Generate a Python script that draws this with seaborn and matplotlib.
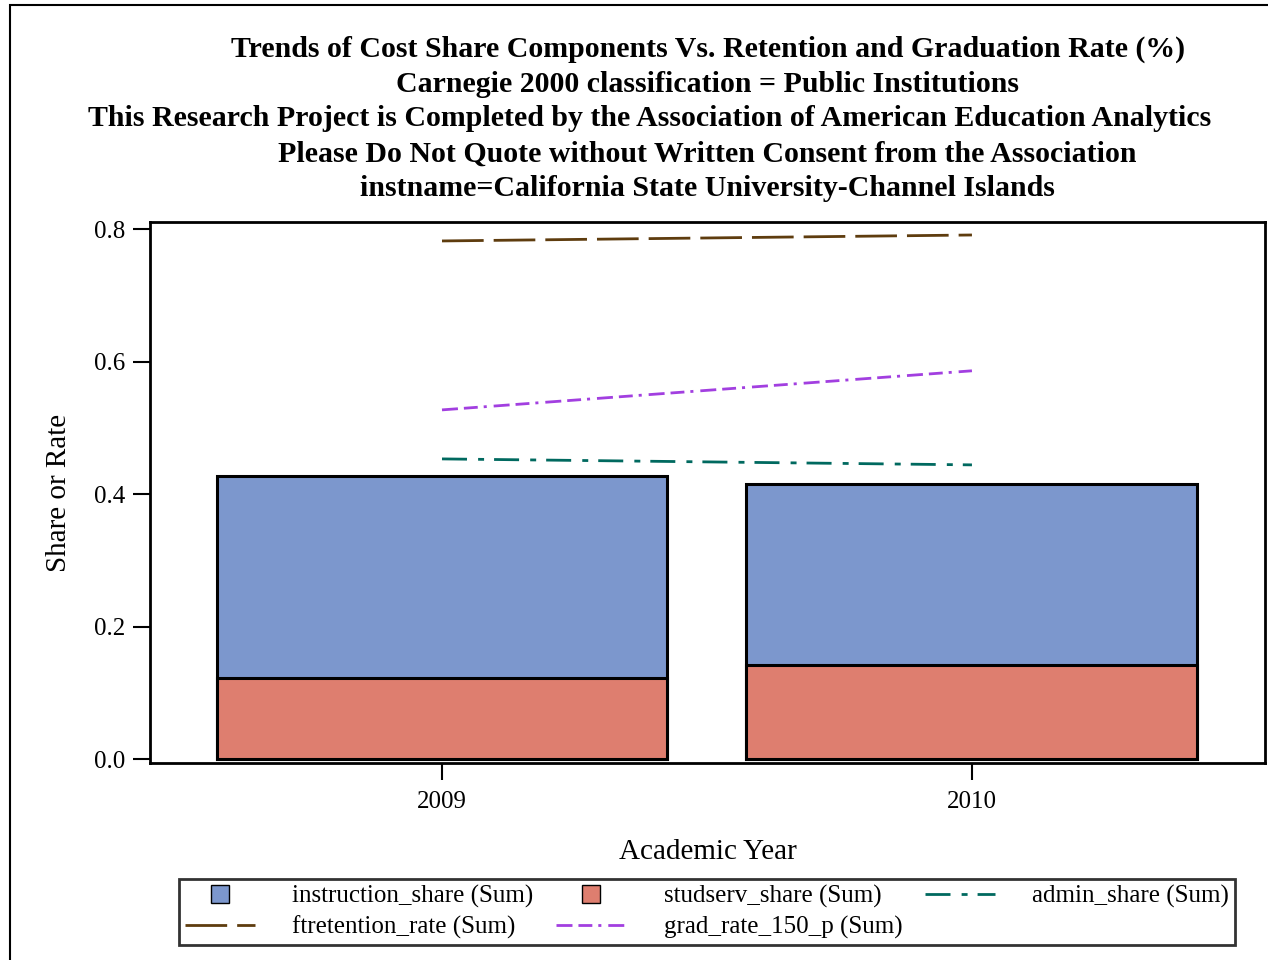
import numpy as np
import pandas as pd
import matplotlib
matplotlib.use("Agg")
import matplotlib.pyplot as plt
from matplotlib.lines import Line2D
from matplotlib.patches import Rectangle
import seaborn as sns

years = ["2009", "2010"]
instruction_share = [0.427, 0.415]
studserv_share = [0.122, 0.142]
admin_share = [0.453, 0.444]
ftretention_rate = [0.782, 0.791]
grad_rate_150_p = [0.527, 0.586]

title_lines = [
    "Trends of Cost Share Components Vs. Retention and Graduation Rate (%)",
    "Carnegie 2000 classification = Public Institutions",
    "This Research Project is Completed by the Association of American Education Analytics",
    "Please Do Not Quote without Written Consent from the Association",
    "instname=California State University-Channel Islands",
]

df = pd.DataFrame({
    "year": years,
    "instruction_share": instruction_share,
    "studserv_share": studserv_share,
    "admin_share": admin_share,
    "ftretention_rate": ftretention_rate,
    "grad_rate_150_p": grad_rate_150_p,
})
df["pos"] = np.arange(len(df))

sns.set_style("white")
plt.rcParams["font.family"] = ["Liberation Serif", "DejaVu Serif"]
plt.rcParams["lines.scale_dashes"] = False
plt.rcParams["text.color"] = "black"
plt.rcParams["axes.labelcolor"] = "black"
plt.rcParams["xtick.color"] = "black"
plt.rcParams["ytick.color"] = "black"

c_instr = "#7C97CD"
c_stud = "#DE7E6F"
c_admin = "#00695F"
c_ftret = "#5E3C0E"
c_grad = "#A23FE0"

fig = plt.figure(figsize=(12.68, 9.6), dpi=100)
ax = fig.add_axes([150 / 1268, 1 - 763 / 960, 1115 / 1268, 541 / 960])

# overlaid bars, both starting at zero
sns.barplot(data=df, x="year", y="instruction_share", color=c_instr, saturation=1,
            width=0.851, edgecolor="black", linewidth=2.2, ax=ax)
sns.barplot(data=df, x="year", y="studserv_share", color=c_stud, saturation=1,
            width=0.851, edgecolor="black", linewidth=2.2, ax=ax)

lw = 2.0
ls_admin = (0, (18, 8, 4.3, 7.2))
ls_ftret = (0, (30, 7.2))
ls_grad = (0, (11.5, 4.3, 10, 4.3, 2.2, 5))
sns.lineplot(data=df, x="pos", y="admin_share", color=c_admin, linewidth=lw,
             linestyle=ls_admin, ax=ax)
sns.lineplot(data=df, x="pos", y="ftretention_rate", color=c_ftret, linewidth=lw,
             linestyle=ls_ftret, ax=ax)
sns.lineplot(data=df, x="pos", y="grad_rate_150_p", color=c_grad, linewidth=lw,
             linestyle=ls_grad, ax=ax)

ax.set_xlim(-0.551, 1.553)
ax.set_ylim(-0.006, 0.8106)
ax.set_xticks([0, 1])
ax.set_xticklabels(years)
ax.set_yticks([0.0, 0.2, 0.4, 0.6, 0.8])
ax.set_yticklabels(["0.0", "0.2", "0.4", "0.6", "0.8"])
ax.tick_params(axis="both", direction="out", length=12, width=1.5, labelsize=18,
               bottom=True, left=True, pad=6)
ax.tick_params(axis="x", pad=8)
ax.set_xlabel("Academic Year", fontsize=21, labelpad=19)
ax.set_ylabel("Share or Rate", fontsize=21, labelpad=16)
for side in ["left", "right", "top", "bottom"]:
    ax.spines[side].set_visible(True)
    ax.spines[side].set_color("black")
    ax.spines[side].set_linewidth(2)

# title lines (third one sits left of centre in the original)
ys = [49, 84, 119, 154, 188]
xs = [708, 708, 650, 707, 707]
for line, x, y in zip(title_lines, xs, ys):
    fig.text(x / 1268, 1 - y / 960, line, ha="center", va="center",
             fontsize=21.5, fontweight="bold")

handles = [
    Line2D([], [], marker="s", markersize=13, markerfacecolor=c_instr,
           markeredgecolor="black", linestyle="none"),
    Line2D([], [], color=c_ftret, linewidth=lw, linestyle=ls_ftret),
    Line2D([], [], marker="s", markersize=13, markerfacecolor=c_stud,
           markeredgecolor="black", linestyle="none"),
    Line2D([], [], color=c_grad, linewidth=lw, linestyle=ls_grad),
    Line2D([], [], color=c_admin, linewidth=lw, linestyle=ls_admin),
]
labels = ["instruction_share (Sum)", "ftretention_rate (Sum)", "studserv_share (Sum)",
          "grad_rate_150_p (Sum)", "admin_share (Sum)"]
leg = fig.legend(handles, labels, ncol=3, loc="center",
                 bbox_to_anchor=(707 / 1268, 1 - 912 / 960), fontsize=18,
                 frameon=True, fancybox=False, edgecolor="black",
                 handlelength=2.8, columnspacing=0.9, handletextpad=1.5,
                 labelspacing=0.3, borderpad=0.25)
leg.get_frame().set_linewidth(2)

fig.patches.append(Rectangle((10 / 1268, -0.01), 1.1, 1 - 5 / 960 + 0.01,
                             transform=fig.transFigure, fill=False,
                             edgecolor="black", linewidth=1.5))

fig.savefig("out.png", dpi=100)
